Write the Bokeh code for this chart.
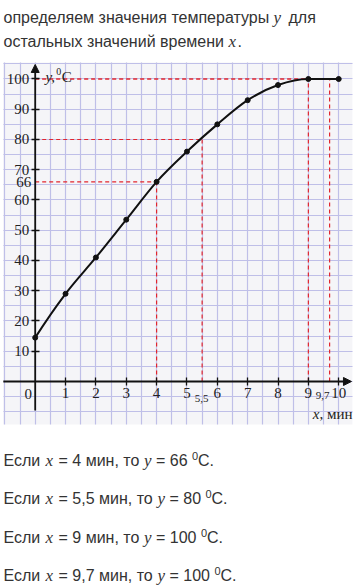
import numpy as np
from bokeh.plotting import figure
from bokeh.models import (LinearAxis, FixedTicker, Label, Arrow, NormalHead,
                          Range1d, Grid)
from bokeh.embed import file_html
from bokeh.resources import INLINE

# ---------------- data ----------------
time_min = [0, 1, 2, 3, 4, 5, 6, 7, 8, 9, 10]
temp_c = [14.5, 29, 41, 53.5, 66, 76, 85, 93, 98, 100, 100]
x_ticks = [1, 2, 3, 4, 5, 6, 7, 8, 9, 10]
y_ticks = [10, 20, 30, 40, 50, 60, 70, 80, 90, 100]
lookup_x = [4, 5.5, 9, 9.7]
lookup_y = [66, 80, 100, 100]
lookup_x_text = ["5,5", "9,7"]
lookup_x_marked = [5.5, 9.7]
lookup_y_marked = [66]

top_lines = [
    [("определяем значения температуры", "sans"), ("y", "it"), ("для", "sans")],
    [("остальных значений времени", "sans"), ("x", "it"), (".", "sans")],
]
bottom_lines = [
    ["Если", "x", "= 4 мин, то", "y", "= 66", "0", "C."],
    ["Если", "x", "= 5,5 мин, то", "y", "= 80", "0", "C."],
    ["Если", "x", "= 9 мин, то", "y", "= 100", "0", "C."],
    ["Если", "x", "= 9,7 мин, то", "y", "= 100", "0", "C."],
]

# ---------------- figure ----------------
W, H = 359, 585
p = figure(width=W, height=H, output_backend="svg", toolbar_location=None,
           x_range=Range1d(-1.1433, 10.685), y_range=Range1d(-67.44, 125.95),
           x_axis_type=None, y_axis_type=None, min_border=0)
p.outline_line_color = None
p.background_fill_color = "white"
p.border_fill_color = "white"

# graph-paper background
p.quad(left=-1.05, right=10.45, bottom=-14.2, top=105.45,
       fill_color="#f5f5f8", line_color=None, level="image")
gx = Grid(dimension=0, ticker=FixedTicker(ticks=list(np.arange(-1.0, 10.5, 0.5))),
          grid_line_color="#bfbfe8", grid_line_width=1.2,
          bounds=(-1.05, 10.45), cross_bounds=(-14.2, 105.45))
gy = Grid(dimension=1, ticker=FixedTicker(ticks=list(np.arange(-10, 106, 5))),
          grid_line_color="#bfbfe8", grid_line_width=1.2,
          bounds=(-14.2, 105.45), cross_bounds=(-1.05, 10.45))
p.add_layout(gx)
p.add_layout(gy)

serif = "Liberation Serif"
sans = "Liberation Sans"
ink = "#222222"

# axes crossing at origin
xaxis = LinearAxis(fixed_location=0, ticker=FixedTicker(ticks=x_ticks),
                   axis_line_color=None, major_tick_in=4, major_tick_out=4,
                   major_tick_line_width=1.3, major_tick_line_color="#111111",
                   minor_tick_line_color=None,
                   major_label_text_font=serif, major_label_text_font_size="15px",
                   major_label_text_color=ink, major_label_standoff=3)
p.add_layout(xaxis, "below")
yaxis = LinearAxis(fixed_location=0, ticker=FixedTicker(ticks=y_ticks),
                   axis_line_color=None, major_tick_in=4, major_tick_out=4,
                   major_tick_line_width=1.3, major_tick_line_color="#111111",
                   minor_tick_line_color=None,
                   major_label_text_font=serif, major_label_text_font_size="15px",
                   major_label_text_color=ink, major_label_standoff=2)
p.add_layout(yaxis, "left")
yaxis66 = LinearAxis(fixed_location=0, ticker=FixedTicker(ticks=lookup_y_marked),
                     axis_line_color=None, major_tick_line_color=None,
                     minor_tick_line_color=None, major_tick_in=0, major_tick_out=0,
                     major_label_text_font=serif, major_label_text_font_size="15px",
                     major_label_text_color=ink, major_label_standoff=4)
p.add_layout(yaxis66, "left")

# red dashed guides
red = "#e2262e"
p.segment(x0=[0] * len(lookup_x), y0=lookup_y, x1=lookup_x, y1=lookup_y,
          line_color=red, line_width=1.2, line_dash="4 3")
p.segment(x0=lookup_x, y0=[0] * len(lookup_x), x1=lookup_x, y1=lookup_y,
          line_color=red, line_width=1.2, line_dash="4 3")

# axis lines with arrows
head = dict(size=8, fill_color="#111111", line_color="#111111")
p.add_layout(Arrow(x_start=-1.05, y_start=0, x_end=10.42, y_end=0,
                   line_width=1.8, line_color="#111111", end=NormalHead(**head)))
p.add_layout(Arrow(x_start=0, y_start=-9.6, x_end=0, y_end=104.8,
                   line_width=1.8, line_color="#111111", end=NormalHead(**head)))

# smooth curve through the measured points
xs = np.array(time_min, float)
ys = np.array(temp_c, float)
h = np.diff(xs)
d = np.diff(ys) / h
m = np.zeros_like(ys)
m[1:-1] = (d[:-1] + d[1:]) / 2
m[0] = 2 * d[0] - m[1]
m[-1] = d[-1]
for i in range(len(d)):
    if d[i] == 0:
        m[i] = 0
        m[i + 1] = 0
p.bezier(x0=xs[:-1], y0=ys[:-1], x1=xs[1:], y1=ys[1:],
         cx0=xs[:-1] + h / 3, cy0=ys[:-1] + m[:-1] * h / 3,
         cx1=xs[1:] - h / 3, cy1=ys[1:] - m[1:] * h / 3,
         line_color="#111111", line_width=2)
p.scatter(time_min, temp_c, size=5, color="#111111")

# origin label, lookup tick labels
p.add_layout(Label(x=0, y=0, x_offset=-7, y_offset=-13, text="0", text_align="center",
                   text_baseline="alphabetic", text_font=serif, text_font_size="15px",
                   text_color=ink))
p.add_layout(Label(x=lookup_x_marked[0], y=0, x_offset=-0.5, y_offset=-17, text=lookup_x_text[0],
                   text_align="center", text_baseline="alphabetic", text_font=serif,
                   text_font_size="11px", text_color=ink))
p.add_layout(Label(x=lookup_x_marked[1], y=0, x_offset=-7, y_offset=-14, text=lookup_x_text[1],
                   text_align="center", text_baseline="alphabetic", text_font=serif,
                   text_font_size="11px", text_color=ink))


# axis titles
def lab(x, y, xo, yo, text, font, size, style="normal"):
    p.add_layout(Label(x=x, y=y, x_offset=xo, y_offset=yo, text=text, text_font=font,
                       text_font_size=size, text_font_style=style, text_color=ink,
                       text_baseline="alphabetic", text_align="left"))


lab(0, 100, 10.3, 2, "y,", serif, "15px", "italic")
lab(0, 100, 21, 7, "0", serif, "10px")
lab(0, 100, 26.5, 2, "C", serif, "15px")
lab(10, 0, -26, -33, "x", serif, "15px", "italic")
lab(10, 0, -19.3, -33, ", мин", serif, "15px")


# paragraph text (screen units, page coordinates)
def stext(px, py, text, font, size, style="normal"):
    p.add_layout(Label(x=px, y=H - py, x_units="screen", y_units="screen",
                       text=text, text_font=font, text_font_size=size,
                       text_font_style=style, text_color="#333333",
                       text_baseline="alphabetic", text_align="left"))


top_x = [[3, 273, 288], [3, 228, 237]]
top_y = [16.5, 40.5]
for runs, xr, yb in zip(top_lines, top_x, top_y):
    for (t, kind), px in zip(runs, xr):
        if kind == "it":
            stext(px, yb, t, serif, "17px", "italic")
        else:
            stext(px, yb, t, sans, "16px")

bot_x = [
    [3, 45, 58, 143.5, 155.5, 191.5, 197.5],
    [3, 45, 58, 157, 169, 205, 211],
    [3, 45, 58, 143.5, 155.5, 200.5, 206.5],
    [3, 45, 58, 157, 169, 214, 220],
]
bot_y = [460, 498, 537, 575]
for runs, xr, yb in zip(bottom_lines, bot_x, bot_y):
    for k, (t, px) in enumerate(zip(runs, xr)):
        if k in (1, 3):
            stext(px, yb, t, serif, "17px", "italic")
        elif k == 5:
            stext(px, yb - 5, t, sans, "11px")
        else:
            stext(px, yb, t, sans, "16px")

open("out.html", "w").write(file_html(p, INLINE))
